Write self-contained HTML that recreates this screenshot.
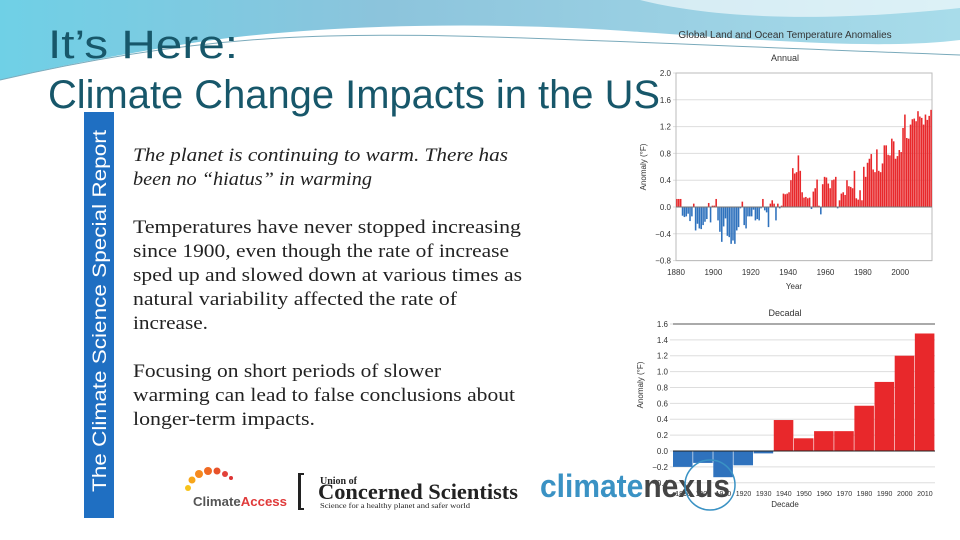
<!DOCTYPE html>
<html><head><meta charset="utf-8"><style>
html,body{margin:0;padding:0;width:960px;height:540px;overflow:hidden;background:#fff}
svg{display:block}
text{font-family:"Liberation Sans",sans-serif}
</style></head><body>
<svg id="s" width="960" height="540" viewBox="0 0 960 540" xmlns="http://www.w3.org/2000/svg">
<defs>
<linearGradient id="hg" x1="0" y1="0" x2="1" y2="0">
<stop offset="0" stop-color="#6fd0e6"/><stop offset="0.4" stop-color="#8cc4dc"/><stop offset="1" stop-color="#a8dcea"/></linearGradient>
</defs>
<g>
<path d="M0 0H960V40C880 50 760 40 640 32C480 20 300 25 180 45C100 58 40 70 0 80Z" fill="url(#hg)"/>
<path d="M0 80C60 66 160 45 280 38C420 30 560 40 960 55" fill="none" stroke="#7aaabb" stroke-width="1"/>
<path d="M640 0C700 15 800 25 960 8V0Z" fill="#fff" opacity="0.6"/>
</g>
<text x="48" y="58" font-size="40" fill="#17576a" textLength="190" lengthAdjust="spacingAndGlyphs">It’s Here:</text>
<text x="48" y="108" font-size="40" fill="#17576a" textLength="612" lengthAdjust="spacingAndGlyphs">Climate Change Impacts in the US</text>
<g>
<rect x="84" y="112" width="30" height="406" fill="#1f6fc2"/>
<text transform="translate(106,492) rotate(-90)" font-size="19" fill="#fff" textLength="362" lengthAdjust="spacingAndGlyphs">The Climate Science Special Report</text>
</g>
<g font-size="19" fill="#222" style='font-family:"Liberation Serif",serif'>
<text x="133" y="161" font-style="italic" textLength="375" lengthAdjust="spacingAndGlyphs" style='font-family:"Liberation Serif",serif'>The planet is continuing to warm. There has</text>
<text x="133" y="185" font-style="italic" textLength="239" lengthAdjust="spacingAndGlyphs" style='font-family:"Liberation Serif",serif'>been no “hiatus” in warming</text>
<text x="133" y="233" textLength="388" lengthAdjust="spacingAndGlyphs" style='font-family:"Liberation Serif",serif'>Temperatures have never stopped increasing</text>
<text x="133" y="257" textLength="376" lengthAdjust="spacingAndGlyphs" style='font-family:"Liberation Serif",serif'>since 1900, even though the rate of increase</text>
<text x="133" y="281" textLength="389" lengthAdjust="spacingAndGlyphs" style='font-family:"Liberation Serif",serif'>sped up and slowed down at various times as</text>
<text x="133" y="305" textLength="324" lengthAdjust="spacingAndGlyphs" style='font-family:"Liberation Serif",serif'>natural variability affected the rate of</text>
<text x="133" y="329" textLength="75" lengthAdjust="spacingAndGlyphs" style='font-family:"Liberation Serif",serif'>increase.</text>
<text x="133" y="377" textLength="308" lengthAdjust="spacingAndGlyphs" style='font-family:"Liberation Serif",serif'>Focusing on short periods of slower</text>
<text x="133" y="401" textLength="382" lengthAdjust="spacingAndGlyphs" style='font-family:"Liberation Serif",serif'>warming can lead to false conclusions about</text>
<text x="133" y="425" textLength="182" lengthAdjust="spacingAndGlyphs" style='font-family:"Liberation Serif",serif'>longer-term impacts.</text>
</g>
<text x="785" y="38" font-size="10" text-anchor="middle" fill="#333">Global Land and Ocean Temperature Anomalies</text>
<text x="785" y="61" font-size="9" text-anchor="middle" fill="#333">Annual</text>
<g id="ann"></g>
<text x="785" y="316" font-size="9" text-anchor="middle" fill="#333">Decadal</text>
<g id="dec"></g>
<g>
<circle cx="188" cy="488" r="3" fill="#f7c31a"/><circle cx="192" cy="480" r="3.5" fill="#f7a61a"/><circle cx="199" cy="474" r="4" fill="#f58a1f"/><circle cx="208" cy="471" r="4" fill="#f06a23"/><circle cx="217" cy="471" r="3.5" fill="#e8522a"/><circle cx="225" cy="474" r="3" fill="#e2413a"/><circle cx="231" cy="478" r="2" fill="#d33"/>
<text x="193" y="506" font-size="13" font-weight="bold" fill="#555" textLength="94" lengthAdjust="spacingAndGlyphs">Climate<tspan fill="#e03a3a">Access</tspan></text>
</g>
<g>
<rect x="298" y="473" width="3" height="37" fill="#222"/><rect x="298" y="473" width="6" height="2" fill="#222"/><rect x="298" y="508" width="6" height="2" fill="#222"/>
<text x="320" y="484" font-size="10" font-weight="bold" fill="#222" style='font-family:"Liberation Serif",serif'>Union of</text>
<text x="318" y="499" font-size="22" font-weight="bold" fill="#222" style='font-family:"Liberation Serif",serif' textLength="200" lengthAdjust="spacingAndGlyphs">Concerned Scientists</text>
<text x="320" y="508" font-size="7" fill="#222" style='font-family:"Liberation Serif",serif' textLength="150" lengthAdjust="spacingAndGlyphs">Science for a healthy planet and safer world</text>
</g>
<g>
<text x="540" y="497" font-size="32" font-weight="bold" fill="#3a92c4" textLength="190" lengthAdjust="spacingAndGlyphs">climate<tspan fill="#444">nexus</tspan></text>
<circle cx="710" cy="485" r="25" fill="none" stroke="#3a92c4" stroke-width="1.5"/>
</g>
<script>
var years=[];for(var yy=1880;yy<=2016;yy++)years.push(yy);
var annualValues=[0.12,0.12,0.12,-0.13,-0.15,-0.14,-0.1,-0.21,-0.14,0.05,
-0.35,-0.25,-0.32,-0.33,-0.27,-0.22,-0.18,0.06,-0.23,0.02,
0.02,0.12,-0.2,-0.37,-0.52,-0.29,-0.17,-0.43,-0.45,-0.55,
-0.5,-0.55,-0.35,-0.3,-0.02,0.08,-0.27,-0.32,-0.14,-0.14,
-0.14,-0.04,-0.2,-0.18,-0.2,-0.02,0.12,-0.05,-0.08,-0.3,
0.05,0.1,0.05,-0.2,0.05,-0.02,0.02,0.2,0.19,0.2,
0.22,0.4,0.58,0.5,0.52,0.77,0.54,0.22,0.14,0.15,
0.13,0.14,-0.03,0.23,0.28,0.41,0.02,-0.11,0.34,0.45,
0.44,0.35,0.28,0.4,0.41,0.45,-0.02,0.1,0.2,0.22,
0.18,0.4,0.31,0.3,0.28,0.54,0.13,0.11,0.25,0.1,
0.6,0.45,0.66,0.72,0.79,0.56,0.52,0.86,0.54,0.52,
0.65,0.92,0.92,0.78,0.77,1.02,0.98,0.72,0.76,0.85,
0.82,1.18,1.38,1.03,1.02,1.23,1.31,1.32,1.28,1.43,
1.35,1.33,1.23,1.38,1.3,1.36,1.45,1.6,1.87,1.95].slice(0,137);
var annualTicks=[-0.8,-0.4,0.0,0.4,0.8,1.2,1.6,2.0];
var annualTickLabels=["\u22120.8","\u22120.4","0.0","0.4","0.8","1.2","1.6","2.0"];
var annualYearTicks=[1880,1900,1920,1940,1960,1980,2000];
var decades=[1890,1900,1910,1920,1930,1940,1950,1960,1970,1980,1990,2000,2010];
var decadalValues=[-0.2,-0.15,-0.33,-0.18,-0.03,0.39,0.16,0.25,0.25,0.57,0.87,1.2,1.48];
var decadalTicks=[-0.4,-0.2,0.0,0.2,0.4,0.6,0.8,1.0,1.2,1.4,1.6];
var decadalTickLabels=["\u22120.4","\u22120.2","0.0","0.2","0.4","0.6","0.8","1.0","1.2","1.4","1.6"];
var NS="http://www.w3.org/2000/svg";
function mk(p,t,a){var e=document.createElementNS(NS,t);for(var k in a)e.setAttribute(k,a[k]);p.appendChild(e);return e;}
(function(){
var g=document.getElementById('ann');
var x0=676,x1=932,bw=(x1-x0)/137;
function ax(yr){return x0+(yr-1880)*bw;}
function ay(v){return 207-v*67;}
annualTicks.forEach(function(t,i){
var l=mk(g,'line',{x1:x0-3,x2:x1,y1:ay(t),y2:ay(t),stroke:'#ddd','stroke-width':1});


var tx=mk(g,'text',{x:x0-5,y:ay(t)+3,'font-size':8,'text-anchor':'end',fill:'#333'});tx.textContent=annualTickLabels[i];


});
mk(g,'rect',{x:x0,y:ay(2),width:x1-x0,height:ay(-0.8)-ay(2),fill:'none',stroke:'#bbb'});
years.forEach(function(yr,i){
var v=annualValues[i];
var r=mk(g,'rect',{x:ax(yr)+0.15,y:Math.min(ay(v),ay(0)),width:bw-0.3,height:Math.abs(ay(v)-ay(0)),fill:v>=0?'#e8282b':'#2f72bd'});


});
mk(g,'line',{x1:x0,x2:x1,y1:ay(0),y2:ay(0),stroke:'#777','stroke-width':1});
annualYearTicks.forEach(function(yr){
var tx=mk(g,'text',{x:ax(yr),y:275,'font-size':8,'text-anchor':'middle',fill:'#333'});tx.textContent=yr;


});
var xt=mk(g,'text',{x:794,y:289,'font-size':8,'text-anchor':'middle',fill:'#333'});xt.textContent='Year';


var yt=mk(g,'text',{transform:'translate(646,167) rotate(-90)','font-size':8,'text-anchor':'middle',fill:'#333'});yt.textContent='Anomaly (\u00b0F)';


})();
(function(){
var g=document.getElementById('dec');
var x0=673,x1=935,bw=(x1-x0)/decades.length;
function dx(i){return x0+i*bw;}
function dy(v){return 451-v*79.4;}
decadalTicks.forEach(function(t,i){
var l=mk(g,'line',{x1:x0-3,x2:x1,y1:dy(t),y2:dy(t),stroke:'#ddd','stroke-width':1});


var tx=mk(g,'text',{x:x0-5,y:dy(t)+3,'font-size':8,'text-anchor':'end',fill:'#333'});tx.textContent=decadalTickLabels[i];


});
mk(g,'line',{x1:x0,x2:x1,y1:dy(1.6),y2:dy(1.6),stroke:'#aaa','stroke-width':2});
decades.forEach(function(d,i){
var v=decadalValues[i];
var r=mk(g,'rect',{x:dx(i),y:Math.min(dy(v),dy(0)),width:bw-0.6,height:Math.abs(dy(v)-dy(0)),fill:v>=0?'#e8282b':'#2f72bd'});


var tx=mk(g,'text',{x:dx(i)+bw/2,y:496,'font-size':7,'text-anchor':'middle',fill:'#333'});tx.textContent=d;


});
mk(g,'line',{x1:x0,x2:x1,y1:dy(0),y2:dy(0),stroke:'#222','stroke-width':1});
var xt=mk(g,'text',{x:785,y:507,'font-size':8,'text-anchor':'middle',fill:'#333'});xt.textContent='Decade';


var yt=mk(g,'text',{transform:'translate(643,385) rotate(-90)','font-size':8,'text-anchor':'middle',fill:'#333'});yt.textContent='Anomaly (\u00b0F)';


})();
</script>
</svg>
</body></html>
